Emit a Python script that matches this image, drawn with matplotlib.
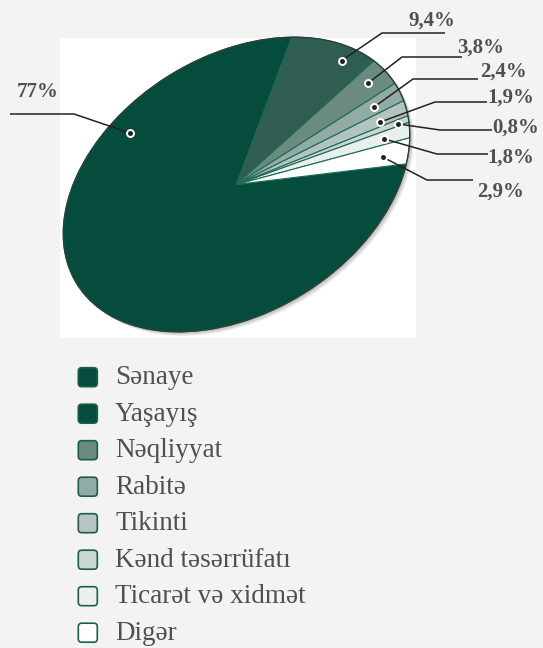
import numpy as np
import matplotlib.pyplot as plt
from matplotlib.patches import Ellipse, FancyBboxPatch, Rectangle
from matplotlib.transforms import Affine2D

W, H = 543, 648

# sector shares (%)
sectors = ["Sənaye", "Yaşayış", "Nəqliyyat", "Rabitə", "Tikinti",
           "Kənd təsərrüfatı", "Ticarət və xidmət", "Digər"]
shares = [77, 9.4, 3.8, 2.4, 1.9, 0.8, 1.8, 2.9]

slice_colors = ["#054c3c", "#2f5d51", "#6b8a80", "#93aba5",
                "#b3c4c0", "#c9d5d2", "#e9efed", "#ffffff"]
legend_colors = ["#054c3c", "#054c3c", "#6b8a80", "#93aba5",
                 "#b5c5c2", "#cdd7d4", "#ebf0ee", "#ffffff"]

# ellipse geometry, in pixels (y measured from the top)
CX, CY = 236.5, 184.5
RX, RY, TILT = 188, 128, 32
START = -34.5

# where each leader starts inside its slice: angle shift from mid-slice, radius
anchor_shift = [-73.7, -6.3, 0.6, -0.3, -1.1, -0.5, -0.3, -0.6]
anchor_r = [0.85, 0.91, 0.89, 0.84, 0.84, 0.94, 0.85, 0.85]
# leader elbow, leader end, label position (left, baseline)
elbows = [(74, 114), (382, 33), (402, 57), (413, 79), (435, 102), (440, 130), (437, 154), (427, 180)]
ends = [(10, 114), (445, 33), (462, 57), (478, 79), (487, 102), (492, 130), (488, 154), (473, 180)]
label_pos = [(17, 97), (408, 26), (457, 53), (480, 77), (487, 103), (492, 133), (487, 163), (477, 197)]

SERIF = "Liberation Serif"
TEXT_COLOR = "#505050"


def fmt_share(v):
    return f"{v:g}%".replace(".", ",")


fig = plt.figure(figsize=(W / 100, H / 100), dpi=100)
fig.patch.set_facecolor("#f2f3f2")
ax = fig.add_axes([0, 0, 1, 1])

# white panel behind the pie
ax.add_patch(Rectangle((60, H - 338), 356, 300, facecolor="white",
                       edgecolor="none", zorder=0))

squash = Affine2D().scale(RX, RY).rotate_deg(TILT).translate(CX, H - CY)

# soft drop shadow to the lower right
for k in range(6, 0, -1):
    ax.add_patch(Ellipse((0, 0), 2, 2, facecolor="black", edgecolor="none",
                         alpha=0.05,
                         transform=squash + Affine2D().translate(k * 0.7, -k * 0.7) + ax.transData,
                         zorder=1))

wedges, _ = ax.pie(shares, colors=slice_colors, startangle=START, counterclock=False,
                   wedgeprops=dict(edgecolor="#1f6a55", linewidth=0.8))
for w in wedges:
    w.set_transform(squash + ax.transData)
    w.set_zorder(2)

ax.add_patch(Ellipse((0, 0), 2, 2, facecolor="none", edgecolor="#2d3d37",
                     linewidth=0.9, transform=squash + ax.transData, zorder=3))

# leaders, dots and value labels
for w, v, sh, r, el, en, lp in zip(wedges, shares, anchor_shift, anchor_r,
                                   elbows, ends, label_pos):
    ang = np.deg2rad((w.theta1 + w.theta2) / 2 + sh)
    px, py = squash.transform((r * np.cos(ang), r * np.sin(ang)))
    ax.plot([px, el[0], en[0]], [py, H - el[1], H - en[1]],
            color="#222222", linewidth=1.1, zorder=4, solid_capstyle="butt")
    ax.plot(px, py, "o", markersize=5, markerfacecolor="#222222",
            markeredgecolor="white", markeredgewidth=1.4, zorder=5)
    ax.text(lp[0], H - lp[1], fmt_share(v), fontsize=15, fontweight="bold",
            family=SERIF, color=TEXT_COLOR, ha="left", va="baseline", zorder=6)

# legend
for i, (name, col) in enumerate(zip(sectors, legend_colors)):
    yc = H - (377.2 + 36.5 * i)
    ax.add_patch(FancyBboxPatch((78.3, yc - 9.5), 19, 19,
                                boxstyle="round,pad=0,rounding_size=3.5",
                                facecolor=col, edgecolor="#1c5e4c", linewidth=1.2))
    ax.text(115, yc - 7, name, fontsize=19.5, family=SERIF, color=TEXT_COLOR,
            ha="left", va="baseline")

ax.set_xlim(0, W)
ax.set_ylim(0, H)
ax.set_aspect("auto")
ax.set_axis_off()

fig.savefig("out.png", dpi=100, facecolor=fig.get_facecolor())
